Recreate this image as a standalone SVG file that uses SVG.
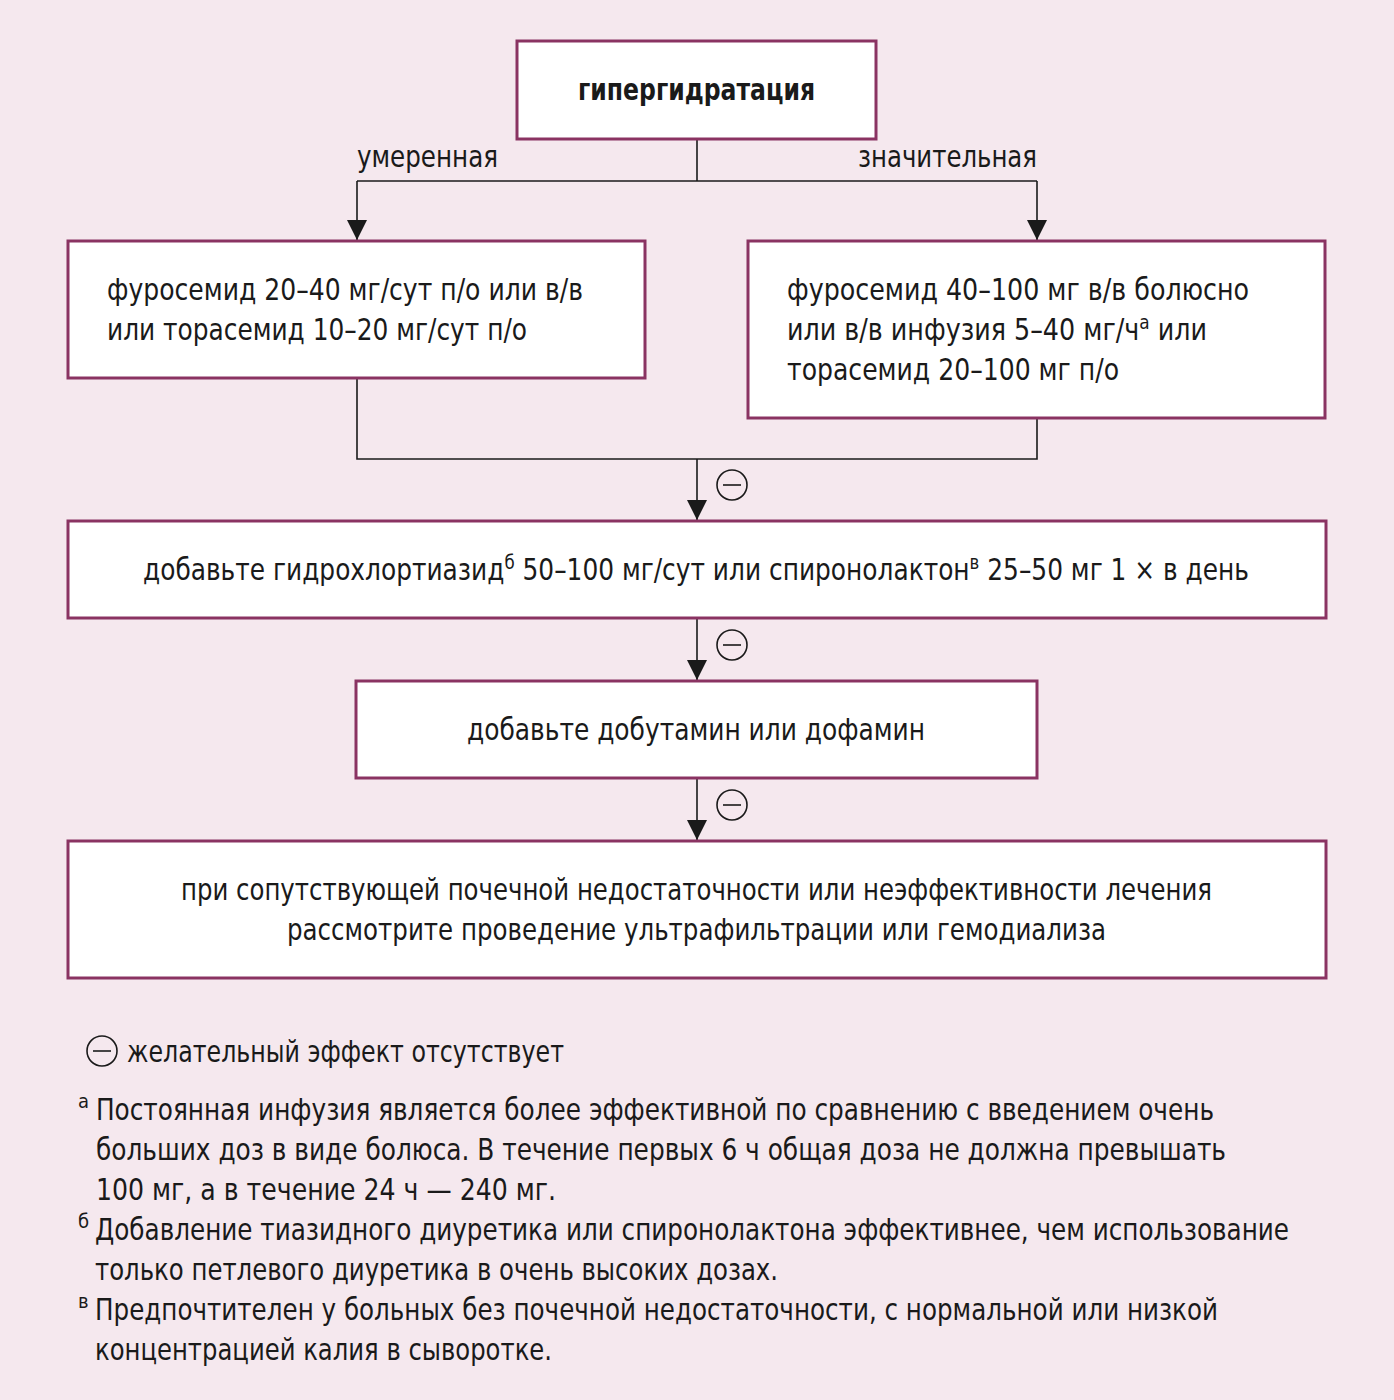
<svg xmlns="http://www.w3.org/2000/svg" width="1394" height="1400" viewBox="0 0 1394 1400">
<defs>
<style>
.bg{fill:#f5e8ee}
.box{fill:#ffffff;stroke:#8a3362;stroke-width:3}
.t{font-family:"Liberation Sans Narrow","DejaVu Sans Condensed","Liberation Sans",sans-serif;font-size:30px;fill:#1a1a1a}
.b{font-weight:bold}
.sup{font-size:20px}
.ln{fill:none;stroke:#1a1a1a;stroke-width:1.6}
.neg{fill:none;stroke:#1a1a1a;stroke-width:1.6}
</style>
<marker id="ah" viewBox="0 0 20 20" refX="20" refY="10" markerWidth="20" markerHeight="20" markerUnits="userSpaceOnUse" orient="auto">
<path d="M0,0 L20,10 L0,20 z" fill="#1a1a1a"/>
</marker>
<g id="minus">
<circle cx="0" cy="0" r="15" class="neg"/>
<line x1="-9" y1="0" x2="9" y2="0" class="neg"/>
</g>
</defs>
<rect class="bg" x="0" y="0" width="1394" height="1400"/>

<g id="connectors">
<polyline class="ln" points="697,139 697,181"/>
<polyline class="ln" points="357,181 1037,181"/>
<line class="ln" x1="357" y1="181" x2="357" y2="240" marker-end="url(#ah)"/>
<line class="ln" x1="1037" y1="181" x2="1037" y2="240" marker-end="url(#ah)"/>
<polyline class="ln" points="357,378 357,459 1037,459 1037,418"/>
<line class="ln" x1="697" y1="459" x2="697" y2="520" marker-end="url(#ah)"/>
<line class="ln" x1="697" y1="618" x2="697" y2="680" marker-end="url(#ah)"/>
<line class="ln" x1="697" y1="778" x2="697" y2="840" marker-end="url(#ah)"/>
<text class="t" x="357" y="167" textLength="141" lengthAdjust="spacingAndGlyphs">умеренная</text>
<text class="t" x="858" y="167" textLength="179" lengthAdjust="spacingAndGlyphs">значительная</text>
<use href="#minus" x="732" y="485"/>
<use href="#minus" x="732" y="645"/>
<use href="#minus" x="732" y="805"/>
</g>

<g id="node-hyper">
<rect class="box" x="517" y="41" width="359" height="98"/>
<text class="t b" x="578" y="100" textLength="237" lengthAdjust="spacingAndGlyphs">гипергидратация</text>
</g>

<g id="node-moderate">
<rect class="box" x="68" y="241" width="577" height="137"/>
<text class="t" x="107" y="300" textLength="476" lengthAdjust="spacingAndGlyphs">фуросемид 20–40 мг/сут п/о или в/в</text>
<text class="t" x="107" y="340" textLength="420" lengthAdjust="spacingAndGlyphs">или торасемид 10–20 мг/сут п/о</text>
</g>

<g id="node-significant">
<rect class="box" x="748" y="241" width="577" height="177"/>
<text class="t" x="787" y="300" textLength="462" lengthAdjust="spacingAndGlyphs">фуросемид 40–100 мг в/в болюсно</text>
<text class="t" x="787" y="340" textLength="420" lengthAdjust="spacingAndGlyphs">или в/в инфузия 5–40 мг/ч<tspan class="sup" dy="-11">а</tspan><tspan dy="11"> или</tspan></text>
<text class="t" x="787" y="380" textLength="332" lengthAdjust="spacingAndGlyphs">торасемид 20–100 мг п/о</text>
</g>

<g id="node-thiazide">
<rect class="box" x="68" y="521" width="1258" height="97"/>
<text class="t" x="143" y="580" textLength="1106" lengthAdjust="spacingAndGlyphs">добавьте гидрохлортиазид<tspan class="sup" dy="-11">б</tspan><tspan dy="11"> 50–100 мг/сут или спиронолактон</tspan><tspan class="sup" dy="-11">в</tspan><tspan dy="11"> 25–50 мг 1 × в день</tspan></text>
</g>

<g id="node-dobutamine">
<rect class="box" x="356" y="681" width="681" height="97"/>
<text class="t" x="467" y="740" textLength="458" lengthAdjust="spacingAndGlyphs">добавьте добутамин или дофамин</text>
</g>

<g id="node-dialysis">
<rect class="box" x="68" y="841" width="1258" height="137"/>
<text class="t" x="181" y="900" textLength="1031" lengthAdjust="spacingAndGlyphs">при сопутствующей почечной недостаточности или неэффективности лечения</text>
<text class="t" x="287" y="940" textLength="819" lengthAdjust="spacingAndGlyphs">рассмотрите проведение ультрафильтрации или гемодиализа</text>
</g>

<g id="legend">
<use href="#minus" x="102" y="1051"/>
<text class="t" x="127" y="1062" textLength="437" lengthAdjust="spacingAndGlyphs">желательный эффект отсутствует</text>
<text class="t sup" x="78" y="1108">а</text>
<text class="t" x="96" y="1120" textLength="1118" lengthAdjust="spacingAndGlyphs">Постоянная инфузия является более эффективной по сравнению с введением очень</text>
<text class="t" x="96" y="1160" textLength="1130" lengthAdjust="spacingAndGlyphs">больших доз в виде болюса. В течение первых 6 ч общая доза не должна превышать</text>
<text class="t" x="96" y="1200" textLength="460" lengthAdjust="spacingAndGlyphs">100 мг, а в течение 24 ч — 240 мг.</text>
<text class="t sup" x="78" y="1228">б</text>
<text class="t" x="95" y="1240" textLength="1194" lengthAdjust="spacingAndGlyphs">Добавление тиазидного диуретика или спиронолактона эффективнее, чем использование</text>
<text class="t" x="95" y="1280" textLength="683" lengthAdjust="spacingAndGlyphs">только петлевого диуретика в очень высоких дозах.</text>
<text class="t sup" x="78" y="1308">в</text>
<text class="t" x="95" y="1320" textLength="1123" lengthAdjust="spacingAndGlyphs">Предпочтителен у больных без почечной недостаточности, с нормальной или низкой</text>
<text class="t" x="95" y="1360" textLength="457" lengthAdjust="spacingAndGlyphs">концентрацией калия в сыворотке.</text>
</g>
</svg>
